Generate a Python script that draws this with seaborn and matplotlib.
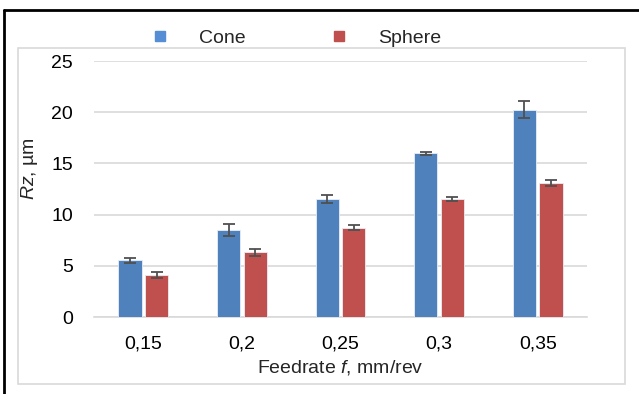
import matplotlib
matplotlib.use("Agg")
import matplotlib.pyplot as plt
import seaborn as sns
import pandas as pd
import numpy as np
from matplotlib.patches import Rectangle
from matplotlib.lines import Line2D

categories = ["0,15", "0,2", "0,25", "0,3", "0,35"]
cone = [5.55, 8.5, 11.5, 16.0, 20.25]
cone_err = [0.25, 0.55, 0.4, 0.15, 0.8]
sphere = [4.1, 6.3, 8.7, 11.55, 13.1]
sphere_err = [0.3, 0.35, 0.25, 0.2, 0.3]
series = ["Cone", "Sphere"]
colors = ["#4F81BD", "#C0504D"]
legend_colors = ["#558ED5", "#C0504D"]
yticks = [0, 5, 10, 15, 20, 25]

sns.set_theme(style="white")
plt.rcParams['font.family'] = ['Liberation Sans', 'DejaVu Sans']
plt.rcParams['mathtext.fontset'] = 'custom'
plt.rcParams['mathtext.rm'] = 'Liberation Sans'
plt.rcParams['mathtext.it'] = 'Liberation Sans:italic'

FS = 14

df = pd.DataFrame({
    "cat": categories * 2,
    "val": cone + sphere,
    "series": [series[0]] * 5 + [series[1]] * 5,
})

W, H = 639, 394
fig = plt.figure(figsize=(W / 100, H / 100), dpi=100)
ax = fig.add_axes([94 / W, 1 - 317 / H, (587 - 94) / W, (317 - 61) / H])

sns.barplot(data=df, x="cat", y="val", hue="series", order=categories,
            hue_order=series, palette=colors, width=0.54, gap=0.13,
            errorbar=None, ax=ax, legend=False, edgecolor="#E8EEF7",
            linewidth=0.6, saturation=1, zorder=3)

# error bars at bar centres
bars = [p for p in ax.patches if isinstance(p, Rectangle) and p.get_height() > 0]
errs_lookup = {}
for vals, errs in [(cone, cone_err), (sphere, sphere_err)]:
    for v, e in zip(vals, errs):
        errs_lookup[round(v, 4)] = e
for p in bars:
    h = p.get_height()
    e = errs_lookup.get(round(h, 4), 0)
    cx = p.get_x() + p.get_width() / 2
    ax.errorbar(cx, h, yerr=e, fmt="none", ecolor="#505050", elinewidth=1.3,
                capsize=4.5, capthick=1.3, zorder=4)

ax.set_ylim(0, 25)
ax.set_xlim(-0.5, 4.5)
ax.set_yticks(yticks)
ax.set_yticklabels([str(t) for t in yticks])
ax.yaxis.grid(True, color="#D9D9D9", linewidth=1.2, zorder=0)
ax.set_axisbelow(True)
for sp in ["top", "right", "left"]:
    ax.spines[sp].set_visible(False)
ax.spines["bottom"].set_color("#D9D9D9")
ax.spines["bottom"].set_linewidth(1.2)
ax.tick_params(axis="both", length=0, labelsize=FS, colors="black")
ax.tick_params(axis="y", pad=15)
ax.tick_params(axis="x", pad=13)

ax.set_xlabel(r"Feedrate $\it{f}$, mm/rev", fontsize=FS, labelpad=4)
ax.set_ylabel(r"$\it{Rz}$, µm", fontsize=FS, labelpad=2)
ax.yaxis.set_label_coords((40 - 94) / (587 - 94), (317 - 169) / (317 - 61))

handles = [Line2D([0], [0], marker="s", color="none", markerfacecolor=c,
                  markeredgecolor=c, markersize=7.5) for c in legend_colors]
fig.legend(handles, series, loc="center", bbox_to_anchor=(296 / W, 1 - 38 / H),
           ncol=2, frameon=False, fontsize=FS, handletextpad=1.5,
           columnspacing=4.3, handlelength=1.0, borderpad=0, borderaxespad=0)

# inner chart area border and outer black border
fig.patches.append(Rectangle((18 / W, 1 - 384 / H), (625 - 18) / W, (384 - 48) / H,
                             transform=fig.transFigure, fill=False,
                             edgecolor="#D9D9D9", linewidth=1.2))
fig.lines.append(Line2D([4 / W, 4 / W], [0, 1 - 10 / H], transform=fig.transFigure,
                        color="black", linewidth=2))
fig.lines.append(Line2D([4 / W, 1], [1 - 10 / H, 1 - 10 / H], transform=fig.transFigure,
                        color="black", linewidth=2))

fig.savefig("out.png", dpi=100)
